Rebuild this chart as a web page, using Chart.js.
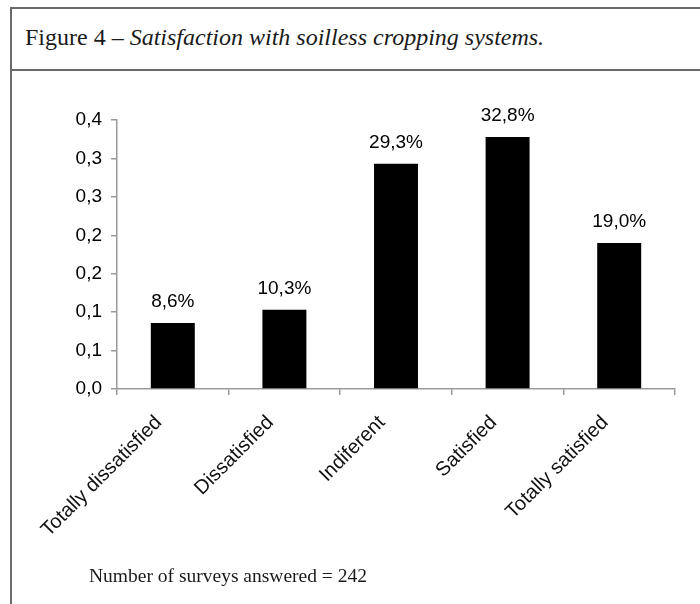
<!DOCTYPE html>
<html>
<head>
<meta charset="utf-8">
<script src="https://cdn.jsdelivr.net/npm/chart.js@4.4.1/dist/chart.umd.min.js"></script>
<style>
  html, body { margin: 0; padding: 0; background: #fff; }
  #wrap { position: relative; width: 700px; height: 604px; overflow: hidden; background: #fff; }
  #frame { position: absolute; left: 10px; top: 7px; width: 720px; height: 700px;
           border-left: 2px solid #6a6a6a; border-top: 2px solid #6a6a6a; }
  #sep { position: absolute; left: 10px; top: 69px; width: 720px; height: 0; border-top: 2px solid #6a6a6a; }
  #title { position: absolute; left: 25px; top: 23px; font-family: "Liberation Serif", "Times New Roman", serif;
           font-size: 24px; color: #1a1a1a; white-space: nowrap; line-height: 28px; }
  #note { position: absolute; left: 89px; top: 564px; font-family: "Liberation Serif", "Times New Roman", serif;
          font-size: 19.5px; color: #1a1a1a; white-space: nowrap; line-height: 24px; }
  canvas { position: absolute; left: 0; top: 0; }
</style>
</head>
<body>
<div id="wrap">
  <div id="frame"></div>
  <div id="sep"></div>
  <div id="title">Figure 4 – <i>Satisfaction with soilless cropping systems.</i></div>
  <canvas id="c" width="700" height="604"></canvas>
  <div id="note">Number of surveys answered = 242</div>
</div>
<script>
// ---- data ----
const categories = ["Totally dissatisfied", "Dissatisfied", "Indiferent", "Satisfied", "Totally satisfied"];
const shares = [0.086, 0.103, 0.293, 0.328, 0.190];
const valueLabels = ["8,6%", "10,3%", "29,3%", "32,8%", "19,0%"];
const yTickValues = [0, 0.05, 0.10, 0.15, 0.20, 0.25, 0.30, 0.35];
const yTickLabels = ["0,0", "0,1", "0,1", "0,2", "0,2", "0,3", "0,3", "0,4"];

const valuePlugin = {
  id: 'valueLabels',
  afterDatasetsDraw(chart) {
    const ctx = chart.ctx;
    const meta = chart.getDatasetMeta(0);
    ctx.save();
    ctx.font = '19px "Liberation Sans", Arial, sans-serif';
    ctx.fillStyle = '#000';
    ctx.textAlign = 'center';
    ctx.textBaseline = 'alphabetic';
    meta.data.forEach((bar, i) => {
      ctx.fillText(valueLabels[i], bar.x, bar.y - 16);
    });
    ctx.restore();
  }
};

new Chart(document.getElementById('c'), {
  type: 'bar',
  data: {
    labels: categories,
    datasets: [{
      data: shares,
      backgroundColor: '#000',
      borderColor: '#000',
      borderWidth: 0,
      barPercentage: 0.394,
      categoryPercentage: 1.0
    }]
  },
  options: {
    responsive: false,
    animation: false,
    events: [],
    layout: { padding: { top: 120, right: 25, left: 0, bottom: 0 } },
    plugins: { legend: { display: false }, tooltip: { enabled: false }, title: { display: false } },
    scales: {
      x: {
        offset: true,
        grid: { display: true, drawOnChartArea: false, offset: true, tickLength: 6, color: '#9a9a9a', lineWidth: 1.5 },
        border: { display: true, color: '#9a9a9a', width: 1.5 },
        ticks: {
          autoSkip: false, minRotation: 45, maxRotation: 45, padding: 16, labelOffset: -14,
          color: '#111',
          font: { family: '"Liberation Sans", Arial, sans-serif', size: 20 }
        },
        afterFit(s) { s.height = 215; }
      },
      y: {
        min: 0, max: 0.35,
        afterBuildTicks(s) { s.ticks = yTickValues.map(v => ({ value: v })); },
        grid: { display: true, drawOnChartArea: false, tickLength: 6, color: '#9a9a9a', lineWidth: 1.5 },
        border: { display: true, color: '#9a9a9a', width: 1.5 },
        ticks: {
          padding: 9,
          color: '#000',
          font: { family: '"Liberation Sans", Arial, sans-serif', size: 19 },
          callback: (v, i) => yTickLabels[i]
        },
        afterFit(s) { s.width = 117; }
      }
    }
  },
  plugins: [valuePlugin]
});
</script>
</body>
</html>
